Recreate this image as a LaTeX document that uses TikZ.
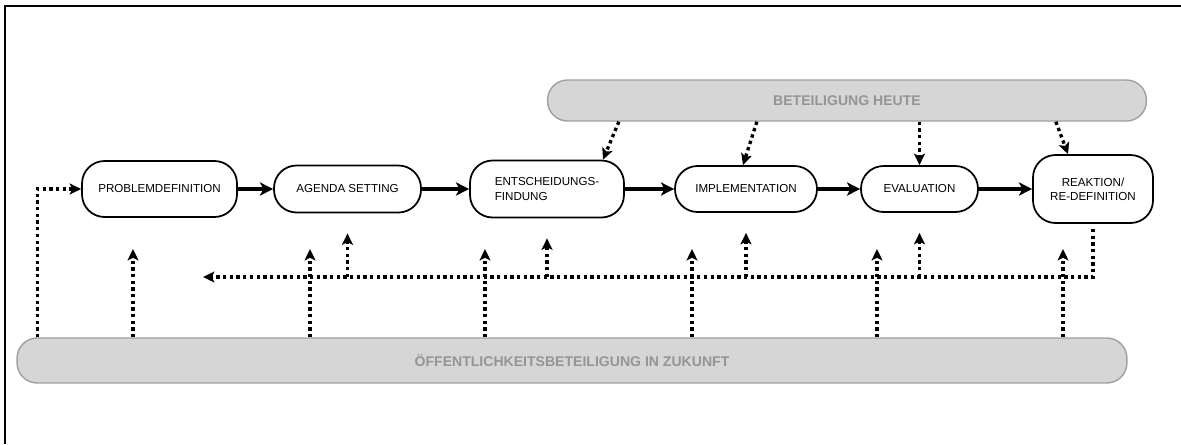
\documentclass[tikz,border=0pt]{standalone}
\usepackage{fontspec}
\setmainfont{Liberation Sans}
\usetikzlibrary{arrows.meta,calc}
\definecolor{barfill}{HTML}{D6D6D6}
\definecolor{barline}{HTML}{A0A0A0}
\definecolor{bartext}{HTML}{959595}
\begin{document}
\begin{tikzpicture}[x=0.02cm, y=-0.02cm,
		stage/.style={draw, line width=1pt, fill=white, rounded corners=0.45cm, inner sep=0pt, align=center, font=\fontsize{6.6}{8}\selectfont},
		bar/.style={draw=barline, line width=0.8pt, fill=barfill, rounded corners=0.4cm, inner sep=0pt, text=bartext, font=\bfseries\fontsize{8}{10}\selectfont},
		flow/.style={line width=1.9pt, -{Stealth[length=7.5pt, width=7.5pt, inset=2pt]}},
		dots/.style={line width=1.9pt, dash pattern=on 1.9pt off 1.9pt, -{Stealth[length=6.5pt, width=6.2pt, inset=1.5pt]}}]
	\useasboundingbox (0,0) rectangle (1181,444);
	\draw[line width=1.2pt] (5,444) -- (5,6) -- (1181,6);
	\node[bar, minimum width=11.98cm, minimum height=0.82cm] (heute) at (847,100.5) {BETEILIGUNG HEUTE};
	\node[bar, minimum width=22.2cm, minimum height=0.9cm] (zukunft) at (572,360.5) {ÖFFENTLICHKEITSBETEILIGUNG IN ZUKUNFT};
	\node[stage, minimum width=3.1cm, minimum height=1.12cm] (prob) at (159.5,189) {PROBLEMDEFINITION};
	\node[stage, minimum width=2.94cm, minimum height=0.94cm] (agenda) at (347.5,189) {AGENDA SETTING};
	\node[stage, minimum width=3.08cm, minimum height=1.14cm, align=left] (entsch) at (547,189) {ENTSCHEIDUNGS-\\FINDUNG};
	\node[stage, minimum width=2.84cm, minimum height=0.92cm] (impl) at (746,189) {IMPLEMENTATION};
	\node[stage, minimum width=2.34cm, minimum height=0.92cm] (eval) at (919.5,189) {EVALUATION};
	\node[stage, minimum width=2.4cm, minimum height=1.36cm] (reak) at (1093,189) {REAKTION/\\RE-DEFINITION};
	\draw[flow] (prob) -- (agenda);
	\draw[flow] (agenda) -- (entsch);
	\draw[flow] (entsch) -- (impl);
	\draw[flow] (impl) -- (eval);
	\draw[flow] (eval) -- (reak);
	\draw[dots] ($(heute.south west)+(72,0)$) -- ($(entsch.north)+(56,0)$);
	\draw[dots] ($(heute.south west)+(210,0)$) -- ($(impl.north)+(-3,0)$);
	\draw[dots] (eval.north |- heute.south) -- (eval.north);
	\draw[dots] ($(heute.south west)+(509,0)$) -- ($(reak.north)+(-25,0)$);
	\coordinate (back) at (203,277);
	\draw[dots, shorten <=0.1cm] (reak.south) |- (back);
	\foreach \n in {agenda,entsch,impl,eval}
		\draw[dots, shorten >=0.4cm] (\n.south |- back) -- (\n.south);
	\foreach \x in {133,310,485,692,877,1063} {
		\coordinate (up\x) at (\x,249);
		\draw[dots] (up\x |- zukunft.north) -- (up\x);
	}
	\draw[dots] ($(zukunft.north west)+(21,0)$) |- (prob.west);
\end{tikzpicture}
\end{document}
